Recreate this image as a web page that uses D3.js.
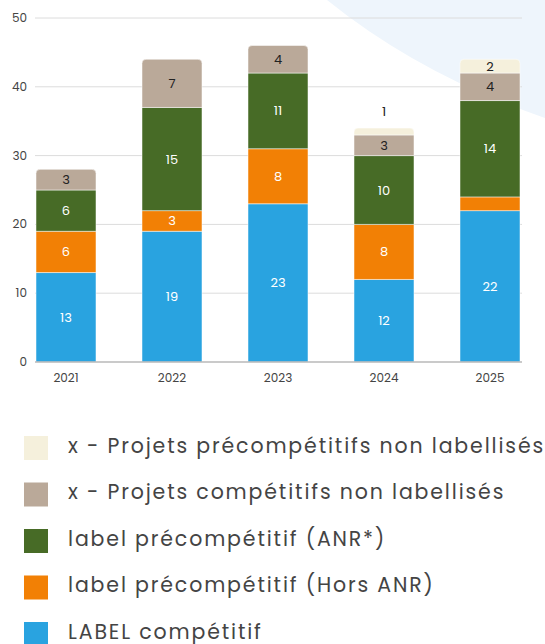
<!DOCTYPE html>
<html>
<head>
<meta charset="utf-8">
<script src="https://cdn.jsdelivr.net/npm/d3@7"></script>
<style>
  body { margin: 0; background: #fff; }
  svg { display: block; font-family: "Poppins", "Open Sans", "Noto Sans", sans-serif; }
</style>
</head>
<body>
<svg id="svg" width="545" height="644"></svg>
<script>
"use strict";

const years = ["2021", "2022", "2023", "2024", "2025"];
// bottom to top
const seriesNames = [
    "LABEL compétitif",
    "label précompétitif (Hors ANR)",
    "label précompétitif (ANR*)",
    "x - Projets compétitifs non labellisés",
    "x - Projets précompétitifs non labellisés"
];
const seriesColors = ["#29a3e0", "#f28005", "#476b26", "#baa999", "#f5f0dc"];
const labelColors = ["#fff", "#fff", "#fff", "#222", "#222"];
const labelCompetitif = [13, 19, 23, 12, 22];
const horsAnr = [6, 3, 8, 8, 2];
const anr = [6, 15, 11, 10, 14];
const competitifsNonLab = [3, 7, 4, 3, 4];
const precompNonLab = [0, 0, 0, 1, 2];
const yTicks = [0, 10, 20, 30, 40, 50];

const seriesValues = [labelCompetitif, horsAnr, anr, competitifsNonLab, precompNonLab];

var svg = d3.select("svg");

// pale background shape top right
svg.append("path")
    .attr("d", "M327,0 Q420,75 545,118 L545,0 Z")
    .attr("fill", "#eef5fc");

var x = d3.scaleBand()
    .domain(years)
    .range([36, 520])
    .paddingInner(0.434)
    .paddingOuter(0);

var y = d3.scaleLinear()
    .domain([0, 50])
    .range([362, 18]);

// grid
svg.append("g")
    .selectAll("line")
    .data(yTicks.filter(d => d > 0))
    .enter()
    .append("line")
        .attr("x1", 35)
        .attr("x2", 522)
        .attr("y1", d => y(d))
        .attr("y2", d => y(d))
        .attr("stroke", "#dcdcdc")
        .attr("stroke-width", 1);

svg.append("g")
    .selectAll("text")
    .data(yTicks)
    .enter()
    .append("text")
        .attr("x", 27)
        .attr("y", d => y(d) + 4)
        .attr("text-anchor", "end")
        .attr("font-size", 12)
        .attr("fill", "#444")
        .text(d => d);

// stacked data
var table = years.map((yr, i) => {
    var row = { year: yr };
    seriesNames.forEach((s, k) => row[s] = seriesValues[k][i]);
    return row;
});
var stacked = d3.stack().keys(seriesNames)(table);

// top series index per year, for rounded corners
var topIndex = years.map((yr, i) => {
    var t = 0;
    seriesValues.forEach((v, k) => { if (v[i] > 0) t = k; });
    return t;
});

function segPath(x0, y0, w, h, r) {
    if (r <= 0) return "M" + x0 + "," + y0 + "h" + w + "v" + h + "h" + (-w) + "Z";
    return "M" + x0 + "," + (y0 + h) +
        "V" + (y0 + r) +
        "Q" + x0 + "," + y0 + " " + (x0 + r) + "," + y0 +
        "H" + (x0 + w - r) +
        "Q" + (x0 + w) + "," + y0 + " " + (x0 + w) + "," + (y0 + r) +
        "V" + (y0 + h) + "Z";
}

var layers = svg.append("g")
    .selectAll("g")
    .data(stacked)
    .enter()
    .append("g")
        .attr("fill", (d, k) => seriesColors[k]);

layers.selectAll("path")
    .data((d, k) => d.map((p, i) => ({ p: p, i: i, k: k })))
    .enter()
    .append("path")
        .filter(d => d.p[1] > d.p[0])
        .attr("d", d => {
            var x0 = x(years[d.i]);
            var y0 = y(d.p[1]);
            var h = y(d.p[0]) - y(d.p[1]);
            var r = (topIndex[d.i] === d.k) ? Math.min(4, h) : 0;
            return segPath(x0, y0, x.bandwidth(), h, r);
        })
        .attr("stroke", "#fff")
        .attr("stroke-width", 0.5);

// baseline
svg.append("line")
    .attr("x1", 35).attr("x2", 522)
    .attr("y1", y(0)).attr("y2", y(0))
    .attr("stroke", "#b8b8b8")
    .attr("stroke-width", 1.5);

// value labels (white labels need more room than dark ones)
var labels = [];
stacked.forEach((layer, k) => {
    layer.forEach((p, i) => {
        var v = p[1] - p[0];
        var h = y(p[0]) - y(p[1]);
        var minH = labelColors[k] === "#fff" ? 15 : 12;
        if (v <= 0) return;
        if (h >= minH) {
            labels.push({ x: x(years[i]) + x.bandwidth() / 2, y: (y(p[0]) + y(p[1])) / 2, v: v, c: labelColors[k] });
        } else if (k === topIndex[i]) {
            labels.push({ x: x(years[i]) + x.bandwidth() / 2, y: y(p[1]) - 17, v: v, c: "#222" });
        }
    });
});

svg.append("g")
    .selectAll("text")
    .data(labels)
    .enter()
    .append("text")
        .attr("x", d => d.x)
        .attr("y", d => d.y + 4.5)
        .attr("text-anchor", "middle")
        .attr("font-size", 13)
        .attr("fill", d => d.c)
        .text(d => d.v);

// x axis labels
svg.append("g")
    .selectAll("text")
    .data(years)
    .enter()
    .append("text")
        .attr("x", d => x(d) + x.bandwidth() / 2)
        .attr("y", 382)
        .attr("text-anchor", "middle")
        .attr("font-size", 12)
        .attr("fill", "#444")
        .text(d => d);

// legend, top series first
var legendOrder = [4, 3, 2, 1, 0];
var legend = svg.append("g")
    .selectAll("g")
    .data(legendOrder)
    .enter()
    .append("g")
        .attr("transform", (d, i) => "translate(24," + (436 + i * 46.5) + ")");

legend.append("rect")
    .attr("width", 24)
    .attr("height", 24)
    .attr("fill", d => seriesColors[d]);

var legendText = legend.append("text")
    .attr("x", 44)
    .attr("y", 16.5)
    .attr("font-size", 20.5)
    .attr("fill", "#444")
    .text(d => seriesNames[d]);

// widen the fallback font so the first item spans like the original
var firstNode = legendText.nodes()[0];
var firstLen = firstNode.getComputedTextLength();
var spacing = (477 - firstLen) / seriesNames[4].length;
legendText.attr("letter-spacing", spacing);
</script>
</body>
</html>
